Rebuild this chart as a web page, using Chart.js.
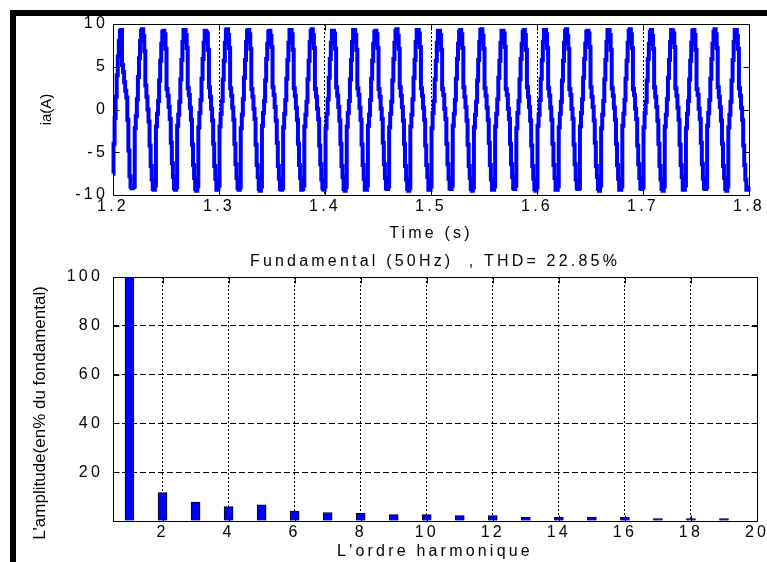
<!DOCTYPE html>
<html>
<head>
<meta charset="utf-8">
<script src="https://cdn.jsdelivr.net/npm/chart.js@4.4.1/dist/chart.umd.min.js"></script>
<style>
  html, body { margin: 0; padding: 0; background: #fff; }
  #page { position: relative; width: 767px; height: 562px; overflow: hidden; background: #fff; }
  canvas { position: absolute; left: 0; }
  #currentChart { top: 0; width: 767px; height: 248px; }
  #spectrumChart { top: 245px; width: 767px; height: 317px; }
  .edge { position: absolute; background: #000; z-index: 5; }
</style>
</head>
<body>
<div id="page">
  <canvas id="currentChart" width="767" height="248"></canvas>
  <canvas id="spectrumChart" width="767" height="317"></canvas>
  <div class="edge" style="left:10px;top:10px;width:757px;height:6px"></div>
  <div class="edge" style="left:10px;top:10px;width:6px;height:552px"></div>
</div>
<script>
const FONT = "'Liberation Sans', Arial, sans-serif";
Chart.defaults.color = '#000';
Chart.defaults.font.family = FONT;
Chart.defaults.font.size = 16;

// Phase current ia, sampled every 1 ms from 1.2 s to 1.8 s (one row per 20 ms cycle)
const sampleStart = 1.2;
const samplePeriod = 0.001;
const iaSamples = [
  -7.5,-4.0,-1.0,1.5,4.0,6.2,8.0,9.2,9.3,5.2,4.4,3.2,2.2,1.4,-1.2,-4.8,-7.8,-9.0,-9.2,-9.1,
  -9.0,-2.2,-0.8,1.2,3.8,6.0,8.0,9.2,9.4,8.6,6.8,2.8,1.5,0.0,-1.4,-4.2,-6.6,-8.2,-9.3,-9.4,
  -8.9,-2.0,-0.5,1.0,3.4,5.7,7.7,9.1,9.2,8.8,7.1,2.4,1.6,0.3,-1.1,-3.9,-6.3,-7.9,-9.2,-9.4,
  -9.1,-1.9,-0.6,0.9,3.5,5.8,7.9,9.3,9.3,8.7,7.2,2.5,1.7,0.2,-1.2,-4.1,-6.5,-8.0,-9.3,-9.5,
  -9.0,-2.1,-0.4,1.1,3.6,5.9,7.8,9.2,9.1,8.9,7.0,2.6,1.5,0.1,-1.3,-4.0,-6.6,-8.1,-9.4,-9.3,
  -8.9,-2.0,-0.5,1.0,3.5,5.7,7.8,9.3,9.4,8.7,7.2,2.5,1.6,0.2,-1.2,-4.0,-6.4,-8.0,-9.2,-9.4,
  -9.1,-2.2,-0.6,1.2,3.7,5.8,7.9,9.2,9.3,8.8,7.1,2.4,1.5,0.1,-1.1,-4.1,-6.5,-7.9,-9.3,-9.5,
  -9.0,-1.9,-0.4,1.0,3.4,5.9,7.7,9.1,9.2,8.6,7.3,2.6,1.7,0.3,-1.3,-3.9,-6.6,-8.1,-9.3,-9.4,
  -9.2,-2.1,-0.5,1.1,3.6,5.8,7.8,9.3,9.3,8.8,7.0,2.5,1.6,0.2,-1.2,-4.0,-6.5,-8.0,-9.4,-9.3,
  -8.9,-2.0,-0.6,0.9,3.5,5.7,7.9,9.2,9.4,8.7,7.2,2.4,1.5,0.1,-1.1,-4.2,-6.4,-8.2,-9.2,-9.4,
  -9.0,-2.2,-0.5,1.2,3.7,5.9,7.8,9.2,9.2,8.9,7.1,2.6,1.6,0.3,-1.3,-4.0,-6.6,-7.9,-9.3,-9.5,
  -9.1,-2.0,-0.4,1.0,3.5,5.8,7.9,9.3,9.3,8.7,7.0,2.5,1.7,0.2,-1.2,-4.1,-6.5,-8.1,-9.4,-9.4,
  -8.9,-1.9,-0.6,1.1,3.6,5.7,7.7,9.1,9.2,8.8,7.2,2.4,1.5,0.1,-1.1,-3.9,-6.4,-8.0,-9.2,-9.3,
  -9.0,-2.1,-0.5,0.9,3.4,5.9,7.8,9.2,9.4,8.6,7.1,2.6,1.6,0.3,-1.3,-4.0,-6.6,-8.2,-9.3,-9.5,
  -9.2,-2.0,-0.6,1.2,3.7,5.8,7.9,9.3,9.3,8.9,7.3,2.5,1.6,0.2,-1.2,-4.2,-6.5,-7.9,-9.4,-9.4,
  -9.0,-2.2,-0.4,1.0,3.5,5.7,7.8,9.2,9.2,8.7,7.0,2.4,1.7,0.1,-1.1,-4.0,-6.4,-8.1,-9.2,-9.3,
  -8.9,-1.9,-0.5,1.1,3.6,5.9,7.7,9.1,9.3,8.8,7.2,2.6,1.5,0.3,-1.3,-4.1,-6.6,-8.0,-9.3,-9.5,
  -9.1,-2.1,-0.6,0.9,3.4,5.8,7.9,9.3,9.4,8.6,7.1,2.5,1.6,0.2,-1.2,-3.9,-6.5,-8.2,-9.4,-9.4,
  -9.0,-2.0,-0.5,1.2,3.7,5.7,7.8,9.2,9.2,8.9,7.3,2.4,1.7,0.1,-1.1,-4.0,-6.4,-7.9,-9.2,-9.3,
  -8.9,-2.2,-0.4,1.0,3.5,5.9,7.7,9.1,9.3,8.7,7.0,2.6,1.5,0.3,-1.3,-4.2,-6.6,-8.1,-9.3,-9.5,
  -9.1,-1.9,-0.6,1.1,3.6,5.8,7.9,9.3,9.3,8.8,7.2,2.5,1.6,0.2,-1.2,-4.0,-6.5,-8.0,-9.4,-9.4,
  -9.0,-2.1,-0.5,0.9,3.4,5.7,7.8,9.2,9.4,8.6,7.1,2.4,1.7,0.1,-1.1,-4.1,-6.4,-8.2,-9.2,-9.3,
  -9.2,-2.0,-0.4,1.2,3.7,5.9,7.7,9.1,9.2,8.9,7.3,2.6,1.5,0.3,-1.3,-3.9,-6.6,-7.9,-9.3,-9.5,
  -8.9,-2.2,-0.6,1.0,3.5,5.8,7.9,9.3,9.3,8.7,7.0,2.5,1.6,0.2,-1.2,-4.0,-6.5,-8.1,-9.4,-9.4,
  -9.0,-1.9,-0.5,1.1,3.6,5.7,7.8,9.2,9.4,8.8,7.2,2.4,1.7,0.1,-1.1,-4.2,-6.4,-8.0,-9.2,-9.3,
  -9.1,-2.1,-0.4,0.9,3.4,5.9,7.7,9.1,9.3,8.6,7.1,2.6,1.5,0.3,-1.3,-4.0,-6.6,-8.2,-9.3,-9.5,
  -9.0,-2.0,-0.6,1.2,3.7,5.8,7.9,9.3,9.2,8.9,7.3,2.5,1.6,0.2,-1.2,-4.1,-6.5,-7.9,-9.4,-9.4,
  -8.9,-2.2,-0.5,1.0,3.5,5.7,7.8,9.2,9.3,8.7,7.0,2.4,1.7,0.1,-1.1,-3.9,-6.4,-8.1,-9.2,-9.3,
  -9.1,-1.9,-0.4,1.1,3.6,5.9,7.7,9.1,9.4,8.8,7.2,2.6,1.5,0.3,-1.3,-4.0,-6.6,-8.0,-9.3,-9.5,
  -9.0,-2.1,-0.6,0.9,3.4,5.8,7.9,9.3,9.3,8.6,7.1,2.5,1.6,0.2,-1.2,-4.2,-6.5,-8.2,-9.4,-9.4,
  -9.1
];
const timeTicks = [1.2, 1.3, 1.4, 1.5, 1.6, 1.7, 1.8];
const currentTicks = [-10, -5, 0, 5, 10];

// Harmonic spectrum of ia, in % of the fundamental
const harmonicOrders = [1, 2, 3, 4, 5, 6, 7, 8, 9, 10, 11, 12, 13, 14, 15, 16, 17, 18, 19];
const harmonicAmplitudes = [100, 11.6, 7.8, 5.9, 6.6, 4.1, 3.5, 3.1, 2.6, 2.6, 2.2, 2.2, 1.5, 1.5, 1.5, 1.5, 1.0, 1.0, 1.0];
const harmonicTicks = [2, 4, 6, 8, 10, 12, 14, 16, 18, 20];
const amplitudeTicks = [0, 20, 40, 60, 80, 100];

const spectrumTitle = 'Fundamental (50Hz)  , THD= 22.85%';

// Axes box, inward tick marks and the rotated y-axis label
const axesFrame = {
  id: 'axesFrame',
  beforeDraw(chart) {
    chart.ctx.letterSpacing = '3.2px';
  },
  afterDraw(chart, args, opts) {
    const { ctx, chartArea: a, scales } = chart;
    const L = Math.floor(a.left) + 0.5, R = Math.floor(a.right) + 0.5;
    const T = Math.floor(a.top) + 0.5, B = Math.floor(a.bottom) + 0.5;
    ctx.save();
    ctx.setLineDash([]);
    ctx.strokeStyle = '#000';
    ctx.lineWidth = 1;
    const len = opts.tickLen || 6;
    ctx.beginPath();
    scales.y.ticks.forEach(t => {
      const py = Math.round(scales.y.getPixelForValue(t.value)) + 0.5;
      ctx.moveTo(L, py); ctx.lineTo(L + len, py);
      ctx.moveTo(R, py); ctx.lineTo(R - len, py);
    });
    scales.x.ticks.forEach(t => {
      const px = Math.round(scales.x.getPixelForValue(t.value)) + 0.5;
      ctx.moveTo(px, B); ctx.lineTo(px, B - len);
      ctx.moveTo(px, T); ctx.lineTo(px, T + len);
    });
    ctx.stroke();
    ctx.strokeRect(L, T, R - L, B - T);

    if (opts.yTitle) {
      ctx.letterSpacing = '0px';
      ctx.fillStyle = '#000';
      ctx.font = opts.yTitleFont;
      ctx.textAlign = 'center';
      ctx.textBaseline = 'middle';
      ctx.translate(a.left - opts.yTitleGap, (a.top + a.bottom) / 2 + (opts.yTitleShift || 0));
      ctx.rotate(-Math.PI / 2);
      ctx.fillText(opts.yTitle, 0, 0);
    }
    ctx.restore();
  }
};

function fixTicks(values) {
  return scale => { scale.ticks = values.map(v => ({ value: v })); };
}

new Chart(document.getElementById('currentChart'), {
  type: 'line',
  data: {
    datasets: [{
      data: iaSamples.map((v, i) => ({ x: sampleStart + i * samplePeriod, y: v })),
      borderColor: '#0000ff',
      borderWidth: 4,
      pointRadius: 0,
      stepped: 'middle',
      clip: false
    }]
  },
  options: {
    responsive: false,
    animation: false,
    events: [],
    layout: { padding: { left: 28, right: 18, top: 24, bottom: 0 } },
    plugins: {
      legend: { display: false },
      tooltip: { enabled: false },
      axesFrame: { yTitle: 'ia(A)', yTitleFont: "15px " + FONT, yTitleGap: 66, tickLen: 6 }
    },
    scales: {
      x: {
        type: 'linear', min: 1.2, max: 1.8,
        afterBuildTicks: fixTicks(timeTicks),
        afterFit: s => { s.height = 53; s.paddingLeft = 0; s.paddingRight = 0; },
        ticks: { autoSkip: false, maxRotation: 0, padding: 2, callback: v => v.toFixed(1) },
        grid: { color: '#000', lineWidth: 1, drawTicks: false },
        border: { display: false, dash: [2, 2] },
        title: { display: true, text: 'Time (s)', padding: { top: 0, bottom: 5 } }
      },
      y: {
        min: -10, max: 10,
        afterBuildTicks: fixTicks(currentTicks),
        afterFit: s => { s.width = 85; s.paddingTop = 0; s.paddingBottom = 0; },
        ticks: { padding: 5, callback: v => String(v) },
        grid: { display: false, drawTicks: false },
        border: { display: false }
      }
    }
  },
  plugins: [axesFrame]
});

new Chart(document.getElementById('spectrumChart'), {
  type: 'bar',
  data: {
    datasets: [{
      data: harmonicOrders.map((h, i) => ({ x: h, y: harmonicAmplitudes[i] })),
      backgroundColor: '#0000ff',
      borderColor: '#000',
      borderWidth: 1,
      barThickness: 9
    }]
  },
  options: {
    responsive: false,
    animation: false,
    events: [],
    layout: { padding: { left: 28, right: 10, top: 0, bottom: 0 } },
    plugins: {
      legend: { display: false },
      tooltip: { enabled: false },
      title: {
        display: true, fullSize: false, text: spectrumTitle, color: '#000',
        font: { size: 16, weight: 'normal' }, padding: { top: 7.4, bottom: 5.4 }
      },
      axesFrame: {
        yTitle: "L'amplitude(en% du fondamental)", yTitleFont: "17px " + FONT,
        yTitleGap: 73, yTitleShift: 14, tickLen: 6
      }
    },
    scales: {
      x: {
        type: 'linear', min: 0.5, max: 20, offset: false,
        afterBuildTicks: fixTicks(harmonicTicks),
        afterFit: s => { s.height = 41; s.paddingLeft = 0; s.paddingRight = 0; },
        ticks: { autoSkip: false, maxRotation: 0, padding: 2, callback: v => String(v) },
        grid: { color: '#000', lineWidth: 1, drawTicks: false, offset: false },
        border: { display: false, dash: [2, 2] },
        title: { display: true, text: "L'ordre harmonique", padding: { top: 0, bottom: 1 } }
      },
      y: {
        min: 0, max: 100,
        afterBuildTicks: fixTicks(amplitudeTicks),
        afterFit: s => { s.width = 85; s.paddingTop = 0; s.paddingBottom = 0; },
        ticks: { padding: 10, callback: v => (v === 0 ? '' : String(v)) },
        grid: { color: '#000', lineWidth: 1, drawTicks: false },
        border: { display: false, dash: [6, 3] }
      }
    }
  },
  plugins: [axesFrame]
});
</script>
</body>
</html>
